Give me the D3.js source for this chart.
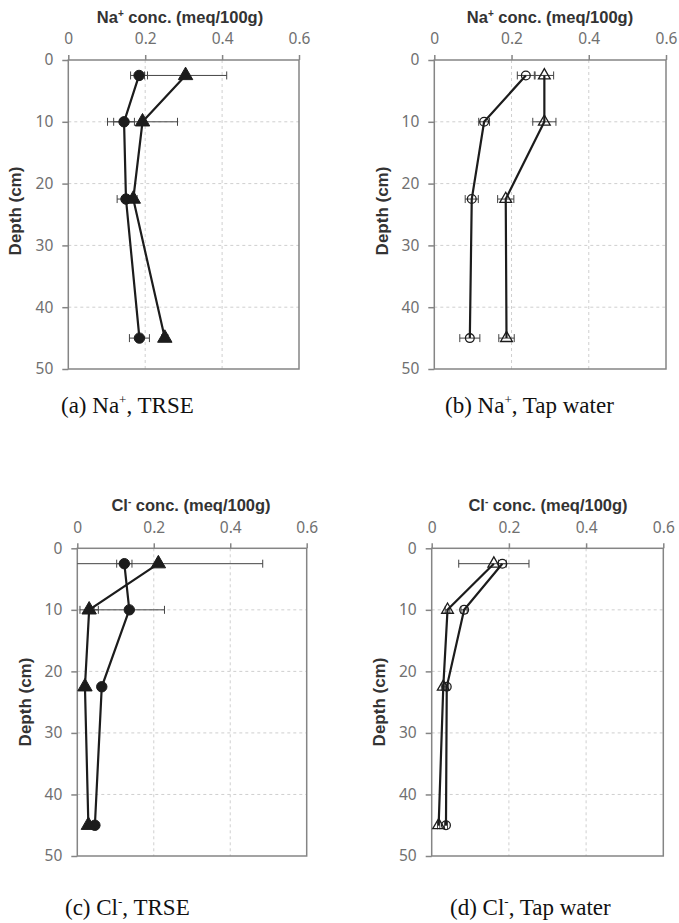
<!DOCTYPE html>
<html>
<head>
<meta charset="utf-8">
<script src="https://cdn.jsdelivr.net/npm/d3@7"></script>
<style>
  body { margin: 0; background: #fff; }
  svg { display: block; }
</style>
</head>
<body>
<div id="chart"></div>
<script>
// depths (cm) sampled in every panel
var depths = [2.5, 10, 22.5, 45];
var xTicks = [0, 0.2, 0.4, 0.6];
var yTicks = [0, 10, 20, 30, 40, 50];

// (a) Na+, TRSE
var naTrseCircle = [0.184, 0.145, 0.150, 0.185],
    naTrseCircleErr = [0.022, 0.027, 0.023, 0.026],
    naTrseTri = [0.305, 0.193, 0.169, 0.251],
    naTrseTriErr = [0.107, 0.091, 0.010, 0.008];
// (b) Na+, Tap water
var naTapCircle = [0.237, 0.129, 0.097, 0.092],
    naTapCircleErr = [0.022, 0.014, 0.017, 0.026],
    naTapTri = [0.285, 0.285, 0.185, 0.187],
    naTapTriErr = [0.024, 0.030, 0.021, 0.020];
// (c) Cl-, TRSE
var clTrseCircle = [0.123, 0.136, 0.064, 0.046],
    clTrseCircleErr = [0.020, 0.092, 0.005, 0.005],
    clTrseTri = [0.212, 0.031, 0.020, 0.029],
    clTrseTriErr = [0.273, 0.024, 0.003, 0.003];
// (d) Cl-, Tap water
var clTapCircle = [0.183, 0.084, 0.039, 0.037],
    clTapCircleErr = [0.010, 0.008, 0.005, 0.004],
    clTapTri = [0.161, 0.041, 0.030, 0.018],
    clTapTriErr = [0.091, 0.006, 0.005, 0.003];

var W = 679, H = 923;
var svg = d3.select('#chart').append('svg').attr('width', W).attr('height', H);

var panels = [
  { ion: 'Na', sup: '+', label: '(a) ', tail: ', TRSE', filled: true,
    left: 68.3, right: 299, top: 60, bottom: 369, titleX: 180, titleY: 23, tickY: 44,
    depthX: 15, depthY: 211, capX: 61, capY: 413,
    circle: naTrseCircle, circleErr: naTrseCircleErr, tri: naTrseTri, triErr: naTrseTriErr },
  { ion: 'Na', sup: '+', label: '(b) ', tail: ', Tap water', filled: false,
    left: 434.3, right: 666, top: 60, bottom: 369, titleX: 550, titleY: 23, tickY: 44,
    depthX: 381.7, depthY: 211, capX: 445, capY: 413,
    circle: naTapCircle, circleErr: naTapCircleErr, tri: naTapTri, triErr: naTapTriErr },
  { ion: 'Cl', sup: '-', label: '(c) ', tail: ', TRSE', filled: true,
    left: 77.3, right: 306.7, top: 548.3, bottom: 856, titleX: 191, titleY: 511, tickY: 533,
    depthX: 25, depthY: 702, capX: 65, capY: 915,
    circle: clTrseCircle, circleErr: clTrseCircleErr, tri: clTrseTri, triErr: clTrseTriErr },
  { ion: 'Cl', sup: '-', label: '(d) ', tail: ', Tap water', filled: false,
    left: 431.7, right: 663.3, top: 548.3, bottom: 856, titleX: 548, titleY: 511, tickY: 533,
    depthX: 379.3, depthY: 702, capX: 450, capY: 915,
    circle: clTapCircle, circleErr: clTapCircleErr, tri: clTapTri, triErr: clTapTriErr }
];

var frameColor = '#858585', gridColor = '#cfcfcf', tickColor = '#707070', ink = '#1c1c1c';

panels.forEach(function (p) {
  var x = d3.scaleLinear().domain([0, 0.6]).range([p.left, p.right]),
      y = d3.scaleLinear().domain([0, 50]).range([p.top, p.bottom]),
      g = svg.append('g');

  // dashed grid
  g.selectAll('.vgrid').data(xTicks.slice(1, -1)).enter().append('line')
    .attr('x1', d => x(d)).attr('x2', d => x(d))
    .attr('y1', p.top).attr('y2', p.bottom)
    .attr('stroke', gridColor).attr('stroke-width', 1).attr('stroke-dasharray', '3,3');
  g.selectAll('.hgrid').data(yTicks.slice(1, -1)).enter().append('line')
    .attr('x1', p.left).attr('x2', p.right)
    .attr('y1', d => y(d)).attr('y2', d => y(d))
    .attr('stroke', gridColor).attr('stroke-width', 1).attr('stroke-dasharray', '3,3');

  // frame
  g.append('rect')
    .attr('x', p.left).attr('y', p.top)
    .attr('width', p.right - p.left).attr('height', p.bottom - p.top)
    .attr('fill', 'none').attr('stroke', frameColor).attr('stroke-width', 1.5);

  // top axis and left axis
  var xAxis = d3.axisTop(x).tickValues(xTicks).tickSize(5).tickPadding(0)
        .tickFormat(d => d === 0 ? '0' : d3.format('.1f')(d)),
      yAxis = d3.axisLeft(y).tickValues(yTicks).tickSize(6).tickPadding(9);

  var gx = g.append('g').attr('transform', 'translate(0,' + p.top + ')').call(xAxis);
  var gy = g.append('g').attr('transform', 'translate(' + p.left + ',0)').call(yAxis);
  [gx, gy].forEach(function (ax) {
    ax.select('.domain').remove();
    ax.selectAll('.tick line').attr('stroke', frameColor).attr('stroke-width', 1.5);
    ax.selectAll('.tick text')
      .attr('fill', tickColor)
      .style('font-family', '"Noto Sans", "DejaVu Sans", sans-serif')
      .style('font-size', '15.5px');
  });
  gx.selectAll('.tick text').attr('y', p.tickY - p.top).attr('dy', null);

  // axis titles
  var t = g.append('text')
    .attr('x', p.titleX).attr('y', p.titleY)
    .attr('text-anchor', 'middle')
    .attr('fill', '#333')
    .style('font-family', '"Liberation Sans", Arial, sans-serif')
    .style('font-weight', 'bold').style('font-size', '16.5px');
  t.append('tspan').text(p.ion);
  t.append('tspan').attr('dy', -6).style('font-size', '10px').text(p.sup);
  t.append('tspan').attr('dy', 6).text(' conc. (meq/100g)');

  g.append('text')
    .attr('transform', 'translate(' + p.depthX + ',' + p.depthY + ') rotate(-90)')
    .attr('text-anchor', 'middle').attr('dy', '0.35em')
    .attr('fill', '#333')
    .style('font-family', '"Liberation Sans", Arial, sans-serif')
    .style('font-weight', 'bold').style('font-size', '17px')
    .text('Depth (cm)');

  // caption
  var c = g.append('text')
    .attr('x', p.capX).attr('y', p.capY)
    .attr('fill', '#111')
    .style('font-family', '"Liberation Serif", "Times New Roman", serif')
    .style('font-size', '23px');
  c.append('tspan').text(p.label + p.ion);
  c.append('tspan').attr('dy', -9).style('font-size', '13px').text(p.sup);
  c.append('tspan').attr('dy', 9).text(p.tail);

  // series
  var series = [
    { vals: p.circle, err: p.circleErr, shape: d3.symbolCircle },
    { vals: p.tri, err: p.triErr, shape: d3.symbolTriangle }
  ];

  var line = d3.line().x(d => x(d[0])).y(d => y(d[1]));

  series.forEach(function (s) {
    var pts = s.vals.map((v, i) => [v, depths[i], s.err[i]]);
    var eb = g.append('g').selectAll('g').data(pts).enter().append('g');
    eb.append('line')
      .attr('x1', d => x(Math.max(0, d[0] - d[2]))).attr('x2', d => x(d[0] + d[2]))
      .attr('y1', d => y(d[1])).attr('y2', d => y(d[1]))
      .attr('stroke', '#444').attr('stroke-width', 1);
    eb.filter(d => d[0] - d[2] >= 0).append('line')
      .attr('x1', d => x(d[0] - d[2])).attr('x2', d => x(d[0] - d[2]))
      .attr('y1', d => y(d[1]) - 4).attr('y2', d => y(d[1]) + 4)
      .attr('stroke', '#444').attr('stroke-width', 1);
    eb.append('line')
      .attr('x1', d => x(d[0] + d[2])).attr('x2', d => x(d[0] + d[2]))
      .attr('y1', d => y(d[1]) - 4).attr('y2', d => y(d[1]) + 4)
      .attr('stroke', '#444').attr('stroke-width', 1);
    s.pts = pts;
  });

  series.forEach(function (s) {
    g.append('path').datum(s.pts).attr('d', line)
      .attr('fill', 'none').attr('stroke', ink).attr('stroke-width', 2.2);
  });

  series.forEach(function (s) {
    var isTri = s.shape === d3.symbolTriangle;
    var size = p.filled ? (isTri ? 90 : 85) : 60;
    g.append('g').selectAll('path').data(s.pts).enter().append('path')
      .attr('d', d3.symbol().type(s.shape).size(size))
      .attr('transform', d => 'translate(' + x(d[0]) + ',' + y(d[1]) + ')')
      .attr('fill', p.filled ? ink : 'none')
      .attr('stroke', ink).attr('stroke-width', p.filled ? 1 : 1.3);
  });
});
</script>
</body>
</html>
